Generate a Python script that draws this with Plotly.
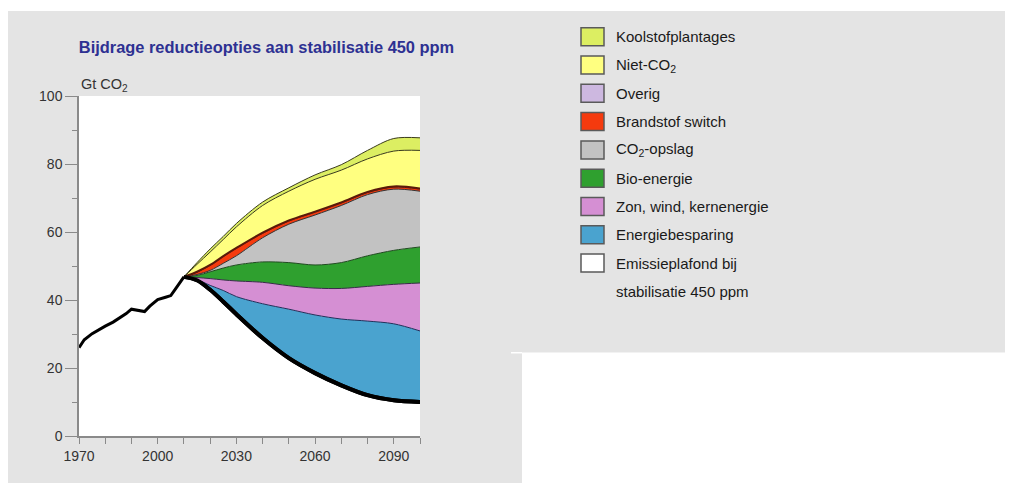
import plotly.graph_objects as go

# ---------------- data ----------------
hist_years = [1970, 1972, 1975, 1978, 1980, 1983, 1985, 1988, 1990, 1992, 1995, 1997, 2000, 2003, 2005, 2007, 2010]
hist_vals = [26.0, 28.3, 30.1, 31.5, 32.3, 33.5, 34.5, 36.0, 37.3, 37.0, 36.6, 38.2, 40.1, 40.8, 41.3, 43.5, 46.8]

scen_years = [2010, 2015, 2020, 2025, 2030, 2040, 2050, 2060, 2070, 2080, 2090, 2100]
emissieplafond = [46.8, 45.8, 43.0, 39.5, 35.8, 28.8, 22.9, 18.5, 14.9, 12.0, 10.5, 10.0]
energiebesparing = [0, 0.2, 1.3, 3.3, 5.2, 10.1, 14.4, 17.1, 19.5, 21.8, 22.5, 20.9]
zon_wind_kern = [0, 0.6, 2.0, 3.1, 4.6, 6.3, 6.9, 7.9, 9.0, 10.2, 11.6, 14.1]
bio_energie = [0, 0.6, 2.0, 3.5, 4.7, 6.0, 6.8, 6.8, 7.6, 9.0, 10.0, 10.6]
co2_opslag = [0, 0.3, 0.4, 1.4, 2.7, 7.1, 11.3, 14.7, 16.8, 18.0, 18.0, 16.4]
brandstof_switch = [0, 0.7, 1.5, 2.0, 2.2, 1.3, 0.9, 0.8, 0.7, 0.6, 0.6, 0.6]
overig = [0, 0.1, 0.1, 0.1, 0.1, 0.2, 0.2, 0.2, 0.2, 0.2, 0.2, 0.2]
niet_co2 = [0, 2.2, 3.8, 4.9, 6.2, 8.0, 8.6, 9.5, 9.5, 9.7, 10.4, 11.2]
koolstofplantages = [0, 0.5, 0.9, 0.9, 1.0, 1.0, 1.0, 1.3, 1.6, 2.5, 3.7, 3.7]

band_names = ["Energiebesparing", "Zon, wind, kernenergie", "Bio-energie", "CO<sub>2</sub>-opslag",
              "Brandstof switch", "Overig", "Niet-CO<sub>2</sub>", "Koolstofplantages"]
band_values = [energiebesparing, zon_wind_kern, bio_energie, co2_opslag,
               brandstof_switch, overig, niet_co2, koolstofplantages]
band_colors = ["#4aa3cf", "#d58fd3", "#2fa02f", "#c2c2c2",
               "#f53a0e", "#cdb8e0", "#ffff80", "#dcee62"]
band_line_colors = ["#1f2f5a", "#3a2a4a", "#1f4a1f", "#333333",
                    "#6b1a0a", "#5a1a0a", "#3a3a1a", "#3a3a1a"]
band_line_widths = [1, 1, 1, 1, 1, 2, 1, 1]

title_text = "Bijdrage reductieopties aan stabilisatie 450 ppm"
y_title = "Gt CO<sub>2</sub>"
x_tickvals = [1970, 2000, 2030, 2060, 2090]
y_tickvals = [0, 20, 40, 60, 80, 100]

# ---------------- layout helpers ----------------
# the page body adds an 8px margin; figure coordinates = reference px - 8
OFF = 8
W, H = 1013 - OFF, 483 - OFF
PL, PR, PT, PB = 79 - OFF, 420 - OFF, 96 - OFF, 436 - OFF  # plot area in figure px


def xp(px):
    """reference pixel x -> paper fraction"""
    return (px - OFF - PL) / (PR - PL)


def yp(py):
    """reference pixel y -> paper fraction"""
    return (PB - (py - OFF)) / (PB - PT)


FONT = "Liberation Sans, Arial, sans-serif"

fig = go.Figure()

SM = 0.9
# emission ceiling (white area)
fig.add_trace(go.Scatter(
    x=scen_years, y=emissieplafond, stackgroup="s", fillcolor="#ffffff",
    line=dict(color="black", width=4, shape="spline", smoothing=SM),
    showlegend=False, hoverinfo="skip"))

for name, vals, col, lc, lw in zip(band_names, band_values, band_colors, band_line_colors, band_line_widths):
    fig.add_trace(go.Scatter(
        x=scen_years, y=vals, stackgroup="s", fillcolor=col, name=name,
        line=dict(color=lc, width=lw, shape="spline", smoothing=SM),
        showlegend=False, hoverinfo="skip"))

# ceiling line on top
fig.add_trace(go.Scatter(
    x=scen_years, y=emissieplafond, mode="lines",
    line=dict(color="black", width=4, shape="spline", smoothing=SM),
    showlegend=False, hoverinfo="skip"))

# historical emissions
fig.add_trace(go.Scatter(
    x=hist_years, y=hist_vals, mode="lines",
    line=dict(color="black", width=3),
    showlegend=False, hoverinfo="skip"))

shapes = []
annotations = []

# background: gray paper, white cut-outs (reference px)
for x0, y0, x1, y1 in [(0, 0, 1040, 11), (522, 352.5, 1040, 500), (511, 352, 522, 353.5)]:
    shapes.append(dict(type="rect", xref="paper", yref="paper",
                       x0=xp(x0), x1=xp(x1), y0=yp(y0), y1=yp(y1),
                       fillcolor="#ffffff", line=dict(width=0), layer="below"))

# manual legend
legend_items = list(zip(band_names, band_colors))[::-1] + [("Emissieplafond bij", "#ffffff")]
y0_leg, dy_leg = 36.7, 28.3
for i, (name, col) in enumerate(legend_items):
    yc = y0_leg + dy_leg * i
    shapes.append(dict(type="rect", xref="paper", yref="paper",
                       x0=xp(581), x1=xp(604), y0=yp(yc + 9), y1=yp(yc - 9),
                       fillcolor=col, line=dict(color="#5a5a5a", width=1.5)))
    annotations.append(dict(text=name, xref="paper", yref="paper", x=xp(614), y=yp(yc),
                            xanchor="left", yanchor="middle", showarrow=False,
                            font=dict(family=FONT, size=15, color="#1a1a1a")))
annotations.append(dict(text="stabilisatie 450 ppm", xref="paper", yref="paper", x=xp(614),
                        y=yp(y0_leg + dy_leg * len(legend_items)),
                        xanchor="left", yanchor="middle", showarrow=False,
                        font=dict(family=FONT, size=15, color="#1a1a1a")))

# axis unit
annotations.append(dict(text=y_title, xref="paper", yref="paper", x=xp(79), y=yp(85),
                        xanchor="left", yanchor="middle", showarrow=False,
                        font=dict(family=FONT, size=14.5, color="#333333")))

fig.update_layout(
    width=W, height=H,
    margin=dict(l=PL, r=W - PR, t=PT, b=H - PB, pad=0),
    paper_bgcolor="#e4e4e4", plot_bgcolor="#ffffff",
    title=dict(text="<b>" + title_text + "</b>", xref="container", yref="container",
               x=(266.5 - OFF) / W, y=1 - (47 - OFF) / H, xanchor="center", yanchor="middle",
               font=dict(family=FONT, size=16.4, color="#2e3192")),
    shapes=shapes, annotations=annotations, showlegend=False,
    font=dict(family=FONT, size=14, color="#333333"),
)
fig.update_xaxes(range=[1970, 2100], tickvals=x_tickvals, ticks="outside", ticklen=6,
                 tickcolor="#8a8a8a", tickwidth=1.2, showline=True, linecolor="#8a8a8a",
                 linewidth=1.5, showgrid=False, zeroline=False,
                 minor=dict(dtick=10, tick0=1970, ticks="outside", ticklen=6, tickcolor="#8a8a8a", tickwidth=1.2),
                 tickfont=dict(family=FONT, size=14, color="#333333"))
fig.update_yaxes(range=[0, 100], tickvals=y_tickvals, ticks="outside", ticklen=12,
                 tickcolor="#8a8a8a", tickwidth=1.2, showline=True, linecolor="#8a8a8a",
                 linewidth=1.5, showgrid=False, zeroline=False,
                 minor=dict(dtick=10, tick0=0, ticks="outside", ticklen=5, tickcolor="#8a8a8a", tickwidth=1.2),
                 tickfont=dict(family=FONT, size=14, color="#333333"))

fig.write_html("out.html")
